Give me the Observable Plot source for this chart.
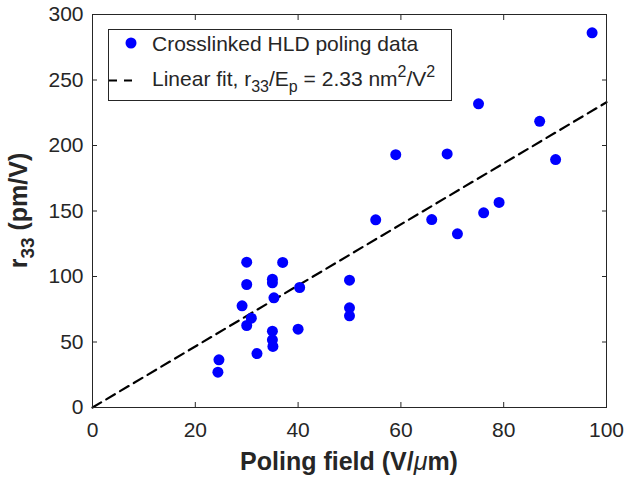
<!DOCTYPE html>
<html><head><meta charset="utf-8">
<script src="https://cdn.jsdelivr.net/npm/d3@7"></script>
<script src="https://cdn.jsdelivr.net/npm/@observablehq/plot@0.6"></script>
<style>html,body{margin:0;padding:0;background:#fff;}</style>
</head><body><div id="chart"></div>
<script>
// ---- data ----
const field = [24.4, 24.6, 29.1, 30, 30, 30, 30.9, 32, 35, 35, 35, 35, 35.1, 35.3, 37, 40, 40.3, 50, 50, 50, 55.1, 59, 66, 69, 71, 75.1, 76.1, 79.1, 87, 90.1, 97.2];
const r33 =   [27, 36.4, 77.6, 62.6, 93.9, 110.9, 68.2, 41.2, 97.9, 95.2, 58.3, 51.7, 46.6, 83.7, 110.7, 59.8, 91.6, 97.2, 76.1, 70, 143.3, 193, 143.5, 193.6, 132.6, 231.8, 148.6, 156.5, 218.5, 189.3, 286];
const fitSlope = 2.33;
const fitRange = [0, 100];
const xTicks = [0, 20, 40, 60, 80, 100];
const yTicks = [0, 50, 100, 150, 200, 250, 300];
const xLabelText = ["Poling field (V/", "μ", "m)"];
const yLabelText = ["r", "33", " (pm/V)"];
const legendData = "Crosslinked HLD poling data";

// ---- chart ----
const font = "'Liberation Sans', Arial, Helvetica, sans-serif";
const ink = "#262626";
const points = field.map((f, i) => ({field: f, r33: r33[i]}));
const fit = fitRange.map(f => ({field: f, r33: fitSlope * f}));

const M = {left: 92, right: 34, top: 14, bottom: 74};
const W = 640, H = 481;

const plot = Plot.plot({
  width: W, height: H,
  marginLeft: M.left, marginRight: M.right, marginTop: M.top, marginBottom: M.bottom,
  style: {fontFamily: font, fontSize: "21px", color: ink, background: "#fff"},
  x: {domain: [0, 100], label: null},
  y: {domain: [0, 300], label: null},
  marks: [
    Plot.line(fit, {x: "field", y: "r33", stroke: "#000", strokeWidth: 2.2, strokeDasharray: "10,6"}),
    Plot.dot(points, {x: "field", y: "r33", r: 5.5, fill: "#0000ff", stroke: "none"}),
    Plot.axisX({ticks: xTicks, tickSize: -5, tickPadding: 20, label: null, stroke: ink, fill: ink, fontSize: 21}),
    Plot.axisX({anchor: "top", ticks: xTicks, tickSize: -5, tickFormat: () => "", label: null, stroke: ink}),
    Plot.axisY({ticks: yTicks, tickSize: -5, tickPadding: 14, label: null, stroke: ink, fill: ink, fontSize: 21}),
    Plot.axisY({anchor: "right", ticks: yTicks, tickSize: -5, tickFormat: () => "", label: null, stroke: ink}),
    Plot.frame({stroke: ink, strokeWidth: 1})
  ]
});
document.getElementById("chart").appendChild(plot);

const svg = d3.select(plot);
const cx = (M.left + (W - M.right)) / 2;
const cy = (M.top + (H - M.bottom)) / 2;

// x label
const xl = svg.append("text").attr("x", cx).attr("y", 470).attr("text-anchor", "middle")
  .attr("font-family", font).attr("font-size", 25).attr("font-weight", "bold").attr("fill", ink);
xl.append("tspan").text(xLabelText[0]);
xl.append("tspan").attr("font-style", "italic").attr("font-weight", "normal").text(xLabelText[1]);
xl.append("tspan").text(xLabelText[2]);

// y label
const yl = svg.append("text").attr("transform", `translate(27,${cy}) rotate(-90)`).attr("text-anchor", "middle")
  .attr("font-family", font).attr("font-size", 25).attr("font-weight", "bold").attr("fill", ink);
yl.append("tspan").text(yLabelText[0]);
yl.append("tspan").attr("dy", 7).attr("font-size", 19).text(yLabelText[1]);
yl.append("tspan").attr("dy", -7).text(yLabelText[2]);

// legend
const lg = svg.append("g").attr("font-family", font).attr("font-size", 21).attr("fill", ink).attr("text-anchor", "start");
lg.append("rect").attr("x", 108.5).attr("y", 29.5).attr("width", 343).attr("height", 71)
  .attr("fill", "#fff").attr("stroke", ink).attr("stroke-width", 1);
lg.append("circle").attr("cx", 131).attr("cy", 43).attr("r", 5.5).attr("fill", "#0000ff");
lg.append("text").attr("x", 152).attr("y", 51).attr("text-anchor", "start").text(legendData);
lg.append("line").attr("x1", 108).attr("x2", 134).attr("y1", 80.5).attr("y2", 80.5)
  .attr("stroke", "#000").attr("stroke-width", 2.2).attr("stroke-dasharray", "0,1,8,7,8,20");
const t2 = lg.append("text").attr("x", 152).attr("y", 86).attr("text-anchor", "start");
t2.append("tspan").text("Linear fit, r");
t2.append("tspan").attr("dy", 6).attr("font-size", 16).text("33");
t2.append("tspan").attr("dy", -6).text("/E");
t2.append("tspan").attr("dy", 6).attr("font-size", 16).text("p");
t2.append("tspan").attr("dy", -6).text(" = " + fitSlope.toFixed(2) + " nm");
t2.append("tspan").attr("dy", -9).attr("font-size", 16).text("2");
t2.append("tspan").attr("dy", 9).text("/V");
t2.append("tspan").attr("dy", -9).attr("font-size", 16).text("2");
</script>
</body></html>
